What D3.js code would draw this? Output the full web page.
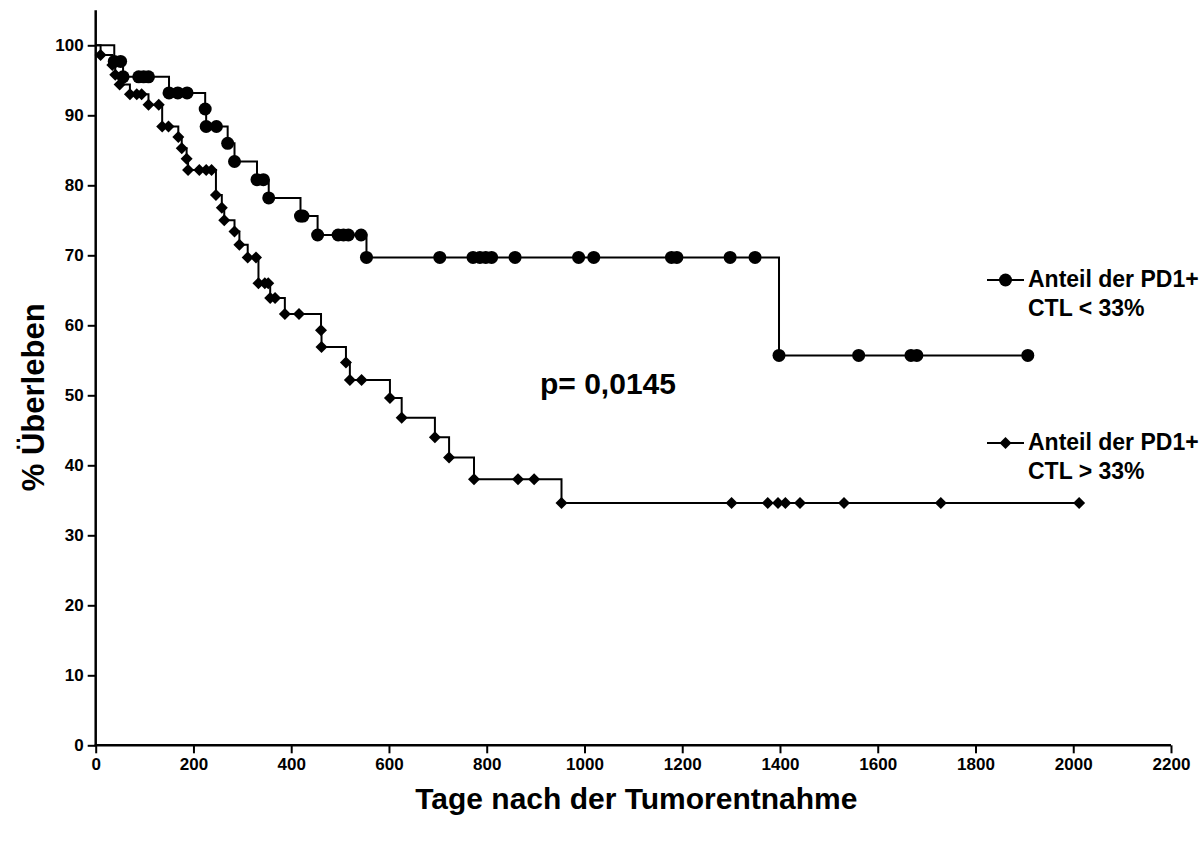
<!DOCTYPE html>
<html>
<head>
<meta charset="utf-8">
<script src="https://cdn.jsdelivr.net/npm/d3@7"></script>
<style>
  html, body { margin: 0; padding: 0; background: #fff; }
  svg { display: block; font-family: "Liberation Sans", Arial, sans-serif; font-weight: bold; }
</style>
</head>
<body>
<svg id="chart" width="1202" height="843"></svg>
<script>
// Kaplan-Meier curves: [Tage, % Überleben] for every recorded patient (events and censored)
const lowPD1 = [
  [0, 100],
  [38, 97.7], [51, 97.7],
  [56, 95.5], [88, 95.5], [98, 95.5], [108, 95.5],
  [150, 93.2], [168, 93.2], [187, 93.2],
  [224, 90.9],
  [226, 88.4], [247, 88.4],
  [270, 86.0],
  [284, 83.4],
  [330, 80.8], [343, 80.8],
  [354, 78.2],
  [419, 75.6], [424, 75.6],
  [454, 72.9], [496, 72.9], [507, 72.9], [517, 72.9], [543, 72.9],
  [554, 69.7], [704, 69.7], [772, 69.7], [786, 69.7], [798, 69.7], [810, 69.7],
  [858, 69.7], [988, 69.7], [1019, 69.7], [1178, 69.7], [1189, 69.7],
  [1298, 69.7], [1349, 69.7],
  [1398, 55.7], [1561, 55.7], [1668, 55.7], [1680, 55.7], [1907, 55.7]
];

const highPD1 = [
  [0, 100],
  [10, 98.6],
  [34, 97.2], [40, 95.8], [49, 94.4],
  [70, 93.0], [84, 93.0], [94, 93.0],
  [108, 91.5], [129, 91.5],
  [136, 88.4], [149, 88.4],
  [169, 86.9], [176, 85.3], [186, 83.8], [189, 82.2],
  [212, 82.2], [226, 82.2], [237, 82.2],
  [246, 78.6], [258, 76.8], [263, 75.0], [284, 73.4], [294, 71.5],
  [311, 69.7], [328, 69.7],
  [333, 66.0], [346, 66.0], [353, 66.0],
  [357, 63.9], [367, 63.9],
  [387, 61.6], [416, 61.6],
  [461, 59.3], [462, 56.9],
  [512, 54.7], [520, 52.2], [544, 52.2],
  [602, 49.6], [626, 46.8],
  [694, 44.0], [723, 41.1],
  [774, 38.0], [864, 38.0], [897, 38.0],
  [953, 34.6], [1301, 34.6], [1375, 34.6], [1396, 34.6], [1411, 34.6],
  [1441, 34.6], [1531, 34.6], [1729, 34.6], [2012, 34.6]
];

const xTicks = [0, 200, 400, 600, 800, 1000, 1200, 1400, 1600, 1800, 2000, 2200];
const yTicks = [0, 10, 20, 30, 40, 50, 60, 70, 80, 90, 100];

const seriesNames = [
  ["Anteil der PD1+", "CTL < 33%"],
  ["Anteil der PD1+", "CTL > 33%"]
];
const pValueText = "p= 0,0145";
const xTitle = "Tage nach der Tumorentnahme";
const yTitle = "% Überleben";

const svg = d3.select("#chart");

const x = d3.scaleLinear().domain([0, 2200]).range([95.7, 1171]);
const y = d3.scaleLinear().domain([0, 100]).range([745.3, 45.3]);

// axes
const xAxis = d3.axisBottom(x).tickValues(xTicks).tickSize(8).tickPadding(5).tickFormat(d3.format("d"));
const yAxis = d3.axisLeft(y).tickValues(yTicks).tickSize(8).tickPadding(4).tickFormat(d3.format("d"));

const gx = svg.append("g").attr("transform", `translate(0,${y(0)})`).call(xAxis);
const gy = svg.append("g").attr("transform", `translate(${x(0)},0)`).call(yAxis);

[gx, gy].forEach(g => {
  g.select(".domain").remove();
  g.selectAll(".tick line").attr("stroke", "#000").attr("stroke-width", 2);
  g.selectAll(".tick text").attr("fill", "#000")
    .style("font-size", "17px").style("font-weight", "bold")
    .style("font-family", "'Liberation Sans', Arial, sans-serif");
});

// axis lines (y axis runs a little above 100)
svg.append("line")
  .attr("x1", x(0)).attr("x2", x(0))
  .attr("y1", y(0) + 1).attr("y2", y(105))
  .attr("stroke", "#000").attr("stroke-width", 2.5);
svg.append("line")
  .attr("x1", x(0) - 1).attr("x2", x(2200))
  .attr("y1", y(0)).attr("y2", y(0))
  .attr("stroke", "#000").attr("stroke-width", 2.5);

// survival step curves
const step = d3.line()
  .x(d => x(d[0]))
  .y(d => y(d[1]))
  .curve(d3.curveStepAfter);

const circleSym = d3.symbol().type(d3.symbolCircle).size(Math.PI * 6.5 * 6.5);
const diamondSym = d3.symbol().type(d3.symbolSquare).size(72);

function drawCurve(data, sym, rotate) {
  svg.append("path")
    .datum(data)
    .attr("d", step)
    .attr("fill", "none")
    .attr("stroke", "#000")
    .attr("stroke-width", 2);
  svg.append("g")
    .selectAll("path")
    .data(data.slice(1))
    .join("path")
    .attr("d", sym)
    .attr("fill", "#000")
    .attr("transform", d => `translate(${x(d[0])},${y(d[1])}) rotate(${rotate})`);
}

drawCurve(lowPD1, circleSym, 0);
drawCurve(highPD1, diamondSym, 45);

// legend
const legendItems = [
  { sym: circleSym, rot: 0, lines: seriesNames[0], cy: 280 },
  { sym: diamondSym, rot: 45, lines: seriesNames[1], cy: 443 }
];
legendItems.forEach(item => {
  const g = svg.append("g");
  g.append("line")
    .attr("x1", 987).attr("x2", 1024)
    .attr("y1", item.cy).attr("y2", item.cy)
    .attr("stroke", "#000").attr("stroke-width", 2);
  g.append("path")
    .attr("d", item.sym)
    .attr("fill", "#000")
    .attr("transform", `translate(1005.5,${item.cy}) rotate(${item.rot})`);
  g.selectAll("text")
    .data(item.lines)
    .join("text")
    .attr("x", 1028)
    .attr("y", (d, i) => item.cy + 6.5 + i * 29)
    .style("font-size", "23px")
    .attr("fill", "#000")
    .text(d => d);
});

// p-value annotation
svg.append("text")
  .attr("x", 540).attr("y", 394)
  .style("font-size", "30px")
  .attr("fill", "#000")
  .text(pValueText);

// axis titles
svg.append("text")
  .attr("x", (x(0) + x(2200)) / 2 + 3).attr("y", 809)
  .attr("text-anchor", "middle")
  .style("font-size", "30px")
  .attr("fill", "#000")
  .text(xTitle);

svg.append("text")
  .attr("transform", `translate(44,${y(50) + 2}) rotate(-90)`)
  .attr("text-anchor", "middle")
  .style("font-size", "31px")
  .attr("fill", "#000")
  .text(yTitle);
</script>
</body>
</html>
